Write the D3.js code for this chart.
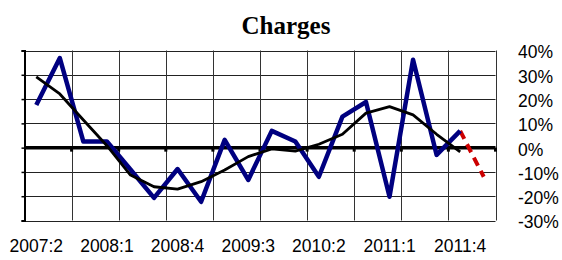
<!DOCTYPE html>
<html>
<head>
<meta charset="utf-8">
<script src="https://cdn.jsdelivr.net/npm/d3@7"></script>
<style>
  body { margin: 0; background: #fff; }
  text { font-family: "Liberation Sans", Arial, sans-serif; }
</style>
</head>
<body>
<svg id="chart"></svg>
<script>
// quarters on the x axis (last one is forecast only)
var quarters = ["2007:2", "2007:3", "2007:4", "2008:1", "2008:2", "2008:3", "2008:4",
  "2009:1", "2009:2", "2009:3", "2009:4", "2010:1", "2010:2", "2010:3", "2010:4",
  "2011:1", "2011:2", "2011:3", "2011:4", "2012:1"];
// quarterly change, %
var charges = [17.6, 36.9, 2.5, 2.5, -9, -20.7, -8.8, -22.3, 3.2, -13.3, 6.9, 2.5,
  -12, 12.8, 18.8, -20.2, 36.2, -3, 6.9];
// smoothed trend, %
var trend = [29.1, 22.1, 11.4, 0.8, -11.3, -16.1, -17.1, -14, -9.2, -3.7, -0.5, -1.4,
  1.4, 5.5, 14.2, 16.9, 13.5, 5.5, -1.7];
// forecast segment: 2011:4 -> 2012:1
var forecastQ = ["2011:4", "2012:1"];
var forecast = [6.9, -12];
var yTicks = [-30, -20, -10, 0, 10, 20, 30, 40];
var xLabels = ["2007:2", "2008:1", "2008:4", "2009:3", "2010:2", "2011:1", "2011:4"];

var width = 562, height = 260;
var plotL = 24.5, plotR = 495.5, plotT = 50.5, plotB = 220.5;

var svg = d3.select("#chart").attr("width", width).attr("height", height);

var x = d3.scaleBand().domain(quarters).range([plotL, plotR]);
var y = d3.scaleLinear().domain([-30, 40]).range([plotB, plotT]);
var cx = function (q) { return x(q) + x.bandwidth() / 2; };

// title
svg.append("text")
  .attr("x", 286).attr("y", 34)
  .attr("text-anchor", "middle")
  .style("font-family", "'Liberation Serif', 'Times New Roman', serif")
  .style("font-weight", "bold")
  .style("font-size", "25px")
  .text("Charges");

// grid
var grid = svg.append("g");
grid.selectAll("line.h").data(yTicks).enter().append("line")
  .attr("x1", plotL).attr("x2", plotR)
  .attr("y1", function (d) { return Math.round(y(d)) + 0.5; })
  .attr("y2", function (d) { return Math.round(y(d)) + 0.5; })
  .attr("stroke", "#222").attr("stroke-width", 1);

var gridQ = quarters.filter(function (d, i) { return i % 2 == 0; });
var gridX = gridQ.map(function (q) { return x(q); }).concat([plotR]);
grid.selectAll("line.v").data(gridX).enter().append("line")
  .attr("x1", function (d) { return Math.round(d) + 0.5; })
  .attr("x2", function (d) { return Math.round(d) + 0.5; })
  .attr("y1", plotT).attr("y2", plotB)
  .attr("stroke", "#333").attr("stroke-width", 1);

// left axis, ticks only
var yAxis = svg.append("g")
  .attr("transform", "translate(" + plotL + ",0)")
  .call(d3.axisLeft(y).tickValues(yTicks).tickSize(3).tickFormat(""));
yAxis.select(".domain").attr("stroke", "#000").attr("stroke-width", 2);
yAxis.selectAll(".tick line").attr("stroke", "#000").attr("stroke-width", 1.5);

// right tick labels
var yRight = svg.append("g")
  .attr("transform", "translate(" + plotR + ",0)")
  .call(d3.axisRight(y).tickValues(yTicks).tickSize(0).tickPadding(22.5)
    .tickFormat(function (d) { return d + "%"; }));
yRight.select(".domain").remove();
yRight.selectAll("text")
  .attr("dy", "0.42em")
  .style("font-size", "17.5px")
  .style("font-family", "'Liberation Sans', Arial, sans-serif")
  .attr("fill", "#000");

// zero line with ticks
var xAxis = svg.append("g")
  .attr("transform", "translate(0," + y(0) + ")");
xAxis.append("line")
  .attr("x1", plotL).attr("x2", plotR)
  .attr("stroke", "#000").attr("stroke-width", 3.5);
xAxis.selectAll("rect.tk").data(gridX.slice(1)).enter().append("rect")
  .attr("x", function (d) { return d - 1.5; })
  .attr("y", 0).attr("width", 3).attr("height", 4)
  .attr("fill", "#000");

// x labels
svg.append("g").selectAll("text").data(xLabels).enter().append("text")
  .attr("x", function (d) { return cx(d); })
  .attr("y", 252)
  .attr("text-anchor", "middle")
  .style("font-size", "17.5px")
  .text(function (d) { return d; });

// series
var line = d3.line()
  .x(function (d) { return cx(d.q); })
  .y(function (d) { return y(d.v); });

var chargeData = charges.map(function (v, i) { return { q: quarters[i], v: v }; });
var trendData = trend.map(function (v, i) { return { q: quarters[i], v: v }; });
var fcData = forecast.map(function (v, i) { return { q: forecastQ[i], v: v }; });

svg.append("path").datum(fcData)
  .attr("d", line).attr("fill", "none")
  .attr("stroke", "#cc0000").attr("stroke-width", 4)
  .attr("stroke-dasharray", "9,6");

svg.append("path").datum(chargeData)
  .attr("d", line).attr("fill", "none")
  .attr("stroke", "#000080").attr("stroke-width", 4.5)
  .attr("stroke-linejoin", "round");

svg.append("path").datum(trendData)
  .attr("d", line).attr("fill", "none")
  .attr("stroke", "#000").attr("stroke-width", 2.8)
  .attr("stroke-linejoin", "round");
</script>
</body>
</html>
